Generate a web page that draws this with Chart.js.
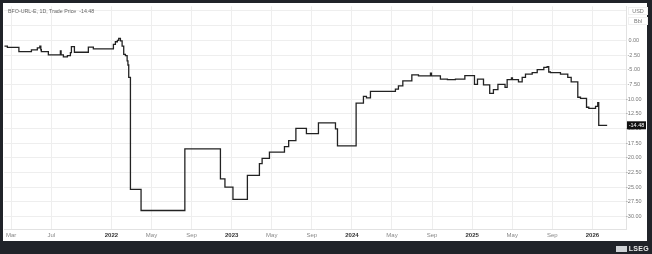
<!DOCTYPE html>
<html lang="en">
<head>
  <meta charset="UTF-8" />
  <title>BFO-URL-E Trade Price</title>
  <script src="https://cdn.jsdelivr.net/npm/chart.js"></script>
  <style>
    body {
      margin: 0;
      padding: 0;
      width: 652px;
      height: 254px;
      background: #202329;
      overflow: hidden;
      font-family: 'Liberation Sans', Arial, sans-serif;
    }
    .panel {
      position: absolute;
      left: 3px;
      top: 3px;
      width: 644px;
      height: 238px;
      background: #fff;
    }
    .title {
      position: absolute;
      left: 5px;
      top: 5px;
      font-size: 5.3px;
      color: #666;
      white-space: pre;
    }
    .unit {
      position: absolute;
      left: 625px;
      width: 18px;
      text-align: center;
      font-size: 5.5px;
      color: #777;
      background: #fff;
      border: 1px solid #f0f0f0;
    }
    .logo {
      position: absolute;
      right: 3px;
      bottom: 2px;
      font-size: 7px;
      font-weight: bold;
      color: #e8e8e8;
      letter-spacing: 0.3px;
    }
    .logo span {
      display: inline-block;
      width: 11px;
      height: 6px;
      margin-right: 2px;
      background: #cfd2d6;
      vertical-align: -1px;
    }
    canvas { position: absolute; left: 0; top: 0; }
  </style>
</head>
<body>
  <div class="panel">
    <canvas id="chart" width="644" height="238"></canvas>
    <div class="title">BFO-URL-E, 1D, Trade Price  -14.48</div>
    <div class="unit" style="top:4px">USD</div>
    <div class="unit" style="top:14px">Bbl</div>
  </div>
  <div class="logo"><span></span>LSEG</div>

  <script>
    // x = months since Jan 2021 (decimal)
    const months = [
      1.32, 1.62, 2.77, 4.02, 4.61, 4.86, 4.96, 5.01, 5.71, 6.91, 6.98, 7.21, 7.61, 7.91, 8.01, 8.31,
      9.70, 10.20, 12.20, 12.40, 12.60, 12.73, 12.90, 13.07, 13.23, 13.40, 13.57, 13.65, 13.73, 13.90,
      14.96, 19.33, 22.88, 23.33, 24.13, 25.57, 26.77, 27.04, 27.77, 29.27, 29.69, 30.41, 31.46, 32.66,
      34.36, 34.56, 36.42, 37.15, 37.45, 37.85, 40.34, 40.64, 41.08, 41.98, 42.64, 43.84, 43.94, 44.83,
      45.53, 46.33, 47.27, 48.23, 48.53, 49.13, 49.75, 50.12, 50.57, 51.28, 51.49, 51.92, 52.02, 52.62,
      52.99, 53.32, 53.99, 54.49, 55.15, 55.48, 55.64, 55.81, 56.81, 57.54, 57.88, 58.54, 58.81, 59.41,
      59.64, 60.31, 60.53, 60.63, 61.47
    ];
    const prices = [
      -0.97, -1.2, -1.93, -1.64, -1.3, -1.0, -1.6, -1.93, -2.49, -1.8, -2.49, -2.83, -2.6, -2.1, -1.08, -2.03,
      -1.14, -1.47, -0.68, -0.24, 0.0, 0.34, -0.1, -0.97, -2.4, -2.6, -3.5, -4.2, -6.3, -25.4,
      -29.0, -18.5, -23.6, -25.0, -27.1, -23.0, -21.0, -20.1, -19.05, -18.1, -17.1, -15.0, -15.9, -14.07,
      -15.1, -18.0, -10.7, -9.55, -9.8, -8.7, -8.3, -7.75, -6.9, -5.9, -6.05, -5.6, -6.05, -6.6,
      -6.7, -6.6, -6.0, -7.5, -6.6, -7.6, -9.05, -8.4, -7.5, -8.0, -6.7, -6.4, -6.7, -7.07,
      -6.3, -5.77, -5.5, -5.0, -4.6, -4.47, -5.4, -5.5, -5.77, -6.3, -7.07, -9.7, -9.9, -11.4,
      -11.6, -11.25, -10.6, -14.48, -14.48
    ];
    const lastPrice = -14.48;

    const tickMonths = [2, 6, 12, 16, 20, 24, 28, 32, 36, 40, 44, 48, 52, 56, 60];
    const tickLabels = ['Mar', 'Jul', '2022', 'May', 'Sep', '2023', 'May', 'Sep', '2024', 'May', 'Sep', '2025', 'May', 'Sep', '2026'];

    const points = months.map((m, i) => ({ x: m, y: prices[i] }));

    const lastTag = {
      id: 'lastTag',
      afterDraw(chart) {
        const c = chart.ctx;
        const y = chart.scales.y.getPixelForValue(lastPrice);
        const x0 = chart.chartArea.right + 1;
        c.save();
        c.fillStyle = '#111';
        c.fillRect(x0, y - 4, 19, 8);
        c.fillStyle = '#fff';
        c.font = '5.5px "Liberation Sans", Arial, sans-serif';
        c.textAlign = 'center';
        c.textBaseline = 'middle';
        c.fillText(lastPrice.toFixed(2), x0 + 9.5, y + 0.5);
        c.restore();
      }
    };

    new Chart(document.getElementById('chart'), {
      type: 'line',
      data: {
        datasets: [{
          data: points,
          stepped: 'before',
          borderColor: '#222',
          borderWidth: 1.3,
          pointRadius: 0,
          fill: false
        }]
      },
      options: {
        responsive: false,
        animation: false,
        layout: { padding: { left: 1, top: 2, right: 0, bottom: 0 } },
        plugins: { legend: { display: false }, tooltip: { enabled: false } },
        scales: {
          x: {
            type: 'linear',
            min: 1.3,
            max: 63.35,
            afterBuildTicks: s => { s.ticks = tickMonths.map(v => ({ value: v })); },
            afterFit: s => { s.height = 12; },
            grid: { color: '#eeeeee', drawTicks: false },
            border: { color: '#e2e2e2' },
            ticks: {
              autoSkip: false,
              maxRotation: 0,
              padding: 3,
              callback: (v, i) => tickLabels[i],
              color: c => /^\d{4}$/.test(tickLabels[c.index]) ? '#333' : '#888',
              font: c => ({ size: 6, family: '"Liberation Sans", Arial, sans-serif',
                weight: /^\d{4}$/.test(tickLabels[c.index]) ? 'bold' : 'normal' })
            }
          },
          y: {
            position: 'right',
            min: -32.15,
            max: 5.8,
            afterFit: s => { s.width = 21; },
            grid: { color: '#eeeeee', drawTicks: false },
            border: { color: '#e2e2e2' },
            ticks: {
              stepSize: 2.5,
              includeBounds: false,
              crossAlign: 'center',
              padding: 0,
              color: '#777',
              font: { size: 5.5, family: '"Liberation Sans", Arial, sans-serif' },
              callback: v => v > 0 ? '' : v.toFixed(2)
            }
          }
        }
      },
      plugins: [lastTag]
    });
  </script>
</body>
</html>
